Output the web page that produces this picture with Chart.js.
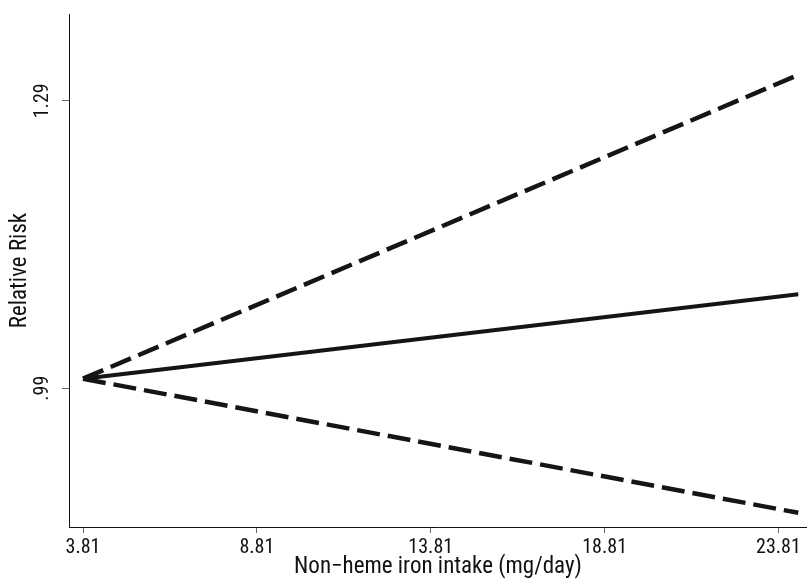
<!DOCTYPE html>
<html>
<head>
<meta charset="utf-8">
<script src="https://cdn.jsdelivr.net/npm/chart.js@4"></script>
<style>
html,body{margin:0;padding:0;background:#fff;}
#wrap{width:807px;height:583px;}
</style>
</head>
<body>
<div id="wrap"><canvas id="c" width="807" height="583"></canvas></div>
<script>
// Data
const xPoints = [3.81, 24.38];
const rrEstimate = [1.000, 1.088];
const rrUpper = [1.000, 1.317];
const rrLower = [1.000, 0.860];
const xTicks = [3.81, 8.81, 13.81, 18.81, 23.81];
const xTickLabels = ['3.81', '8.81', '13.81', '18.81', '23.81'];
const yTicks = [0.99, 1.29];
const yTickLabels = ['.99', '1.29'];
const xTitle = 'Non\u2212heme iron intake (mg/day)';
const yTitle = 'Relative Risk';

const FONT = '"Liberation Sans Narrow", "Roboto Condensed", "Open Sans", sans-serif';
const toPts = (ys) => xPoints.map((x, i) => ({x: x, y: ys[i]}));

new Chart(document.getElementById('c'), {
  type: 'line',
  data: {
    datasets: [
      {data: toPts(rrUpper), borderColor: '#151515', borderWidth: 4.5, borderDash: [22, 8], borderCapStyle: 'butt', pointRadius: 0, fill: false, tension: 0},
      {data: toPts(rrEstimate), borderColor: '#151515', borderWidth: 4, pointRadius: 0, fill: false, tension: 0},
      {data: toPts(rrLower), borderColor: '#151515', borderWidth: 4.5, borderDash: [23, 8], borderCapStyle: 'butt', pointRadius: 0, fill: false, tension: 0}
    ]
  },
  options: {
    responsive: false,
    animation: false,
    devicePixelRatio: 1,
    layout: {padding: {top: 13, right: 0, left: 0, bottom: 0}},
    plugins: {legend: {display: false}, tooltip: {enabled: false}},
    scales: {
      x: {
        type: 'linear',
        min: 3.407, max: 24.63,
        afterBuildTicks: (s) => { s.ticks = xTicks.map(v => ({value: v})); },
        afterFit: (s) => { s.height = 56; },
        ticks: {
          autoSkip: false, maxRotation: 0, minRotation: 0,
          color: '#111', font: {family: FONT, size: 20}, padding: 3,
          callback: (v, i) => xTickLabels[i]
        },
        grid: {display: true, drawOnChartArea: false, drawTicks: true, tickLength: 6, color: '#666', lineWidth: 1},
        border: {display: true, color: '#111', width: 1},
        title: {display: true, text: xTitle, color: '#111', font: {family: FONT, size: 23}, padding: {top: 0, bottom: 2}}
      },
      y: {
        type: 'linear',
        min: 0.8452, max: 1.3806,
        afterBuildTicks: (s) => { s.ticks = yTicks.map(v => ({value: v})); },
        afterFit: (s) => { s.width = 69; },
        ticks: {
          autoSkip: false, minRotation: 90, maxRotation: 90, crossAlign: 'center',
          color: '#111', font: {family: FONT, size: 20}, padding: 2,
          callback: (v, i) => yTickLabels[i]
        },
        grid: {display: true, drawOnChartArea: false, drawTicks: true, tickLength: 7, color: '#666', lineWidth: 1},
        border: {display: true, color: '#111', width: 1},
        title: {display: true, text: yTitle, color: '#111', font: {family: FONT, size: 23}, padding: {top: 6, bottom: 0}}
      }
    }
  }
});
</script>
</body>
</html>
